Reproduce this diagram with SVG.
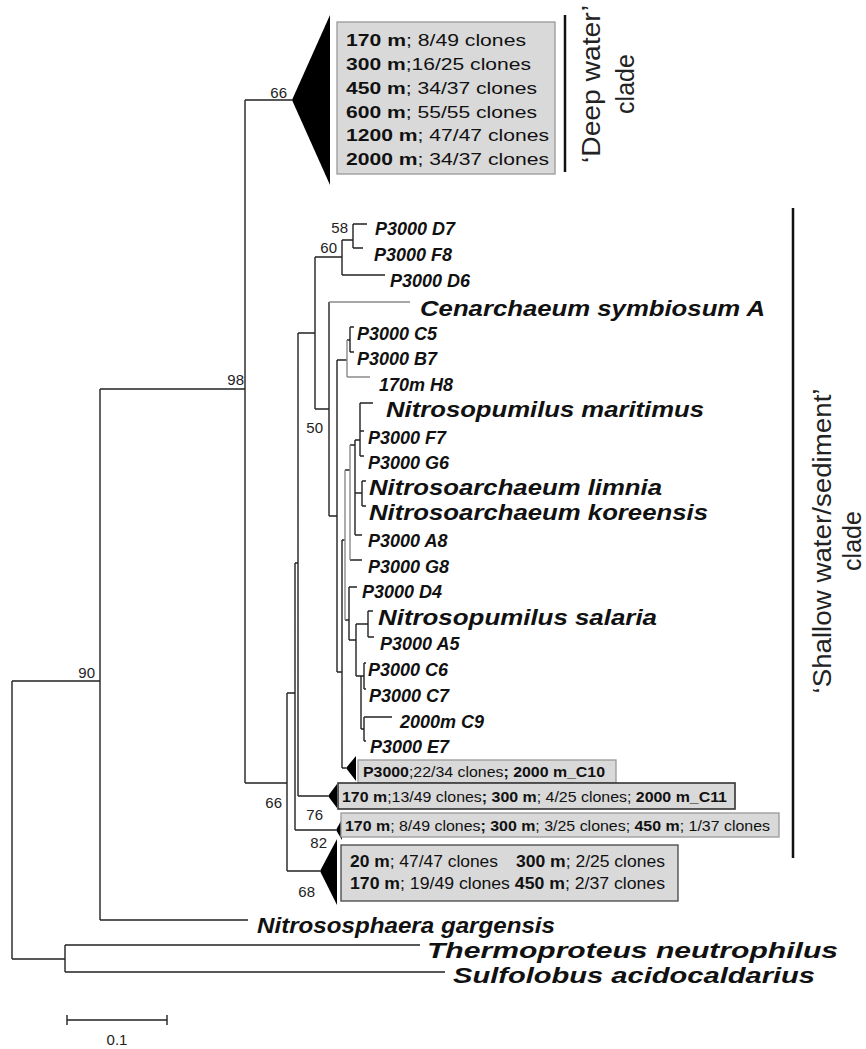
<svg xmlns="http://www.w3.org/2000/svg" width="866" height="1049" viewBox="0 0 866 1049">
<style>
text{font-family:"Liberation Sans",Arial,sans-serif;fill:#111}
.tip{font-size:18px;font-weight:bold;font-style:italic}
.sp{font-size:22px;font-weight:bold;font-style:italic}
.bs{font-size:15px;fill:#222}
.box{fill:#d9d9d9;stroke:#999;stroke-width:1.3}
.boxd{fill:#d9d9d9;stroke:#333;stroke-width:1.6}
.bt{font-size:17px}
.st{font-size:14px}
.b{font-weight:bold}
.tree{fill:none;stroke:#222;stroke-width:1.4}
.treeg{fill:none;stroke:#8a8a8a;stroke-width:1.4}
.tri{fill:#000}
.bar{stroke:#111;stroke-width:2.5}
.lab{font-size:25px;fill:#222}
</style>
<g id="connectors">
<path class="tree" d="M12 681V959M12 681H100M12 959H65M65 945V972M65 945H420M65 972H445M100 389V920M100 920H248M100 389H245M245 100V783M245 100H292M245 783H287M287 693V871M287 871H320M287 693H295M295 563V830M295 830H336M295 563H298M298 333V796M298 796H328M298 333H315M315 257V409M315 257H342M342 240V275M342 240H353M342 275H385M353 224V248M353 224H367M353 248H363M315 409H329M329 302V516M329 516H337M337 360V672M337 360H347M347 340H350M350 327V352M350 327H354M350 352H354M337 672H342M342 540V768M342 768H346M342 540H345M345 470H350M350 445H355M355 440V535M355 440H360M360 403V456M360 403H373M360 431H364M360 456H364M355 493H362M362 481V506M362 481H366M362 506H366M355 535H362M350 560H362M345 620H349M349 587V640M349 587H357M349 640H356M356 624V676M356 624H368M368 611V637M368 611H373M368 637H374M356 676H361M361 676V729M361 676H364M364 663V689M364 663H366M364 689H366M361 729H364M364 717V741M364 717H392M364 741H366"/>
<path class="treeg" d="M329 302H410M347 340V377M347 377H370M345 470V620M350 445V560"/>
<path class="tree" d="M67 1020H167M67 1015V1025M167 1015V1025"/>
</g>
<g id="bootstrap">
<text class="bs" x="287" y="98" text-anchor="end">66</text>
<text class="bs" x="348" y="233" text-anchor="end">58</text>
<text class="bs" x="337" y="253" text-anchor="end">60</text>
<text class="bs" x="323" y="433" text-anchor="end">50</text>
<text class="bs" x="244" y="385" text-anchor="end">98</text>
<text class="bs" x="95" y="678" text-anchor="end">90</text>
<text class="bs" x="282" y="808" text-anchor="end">66</text>
<text class="bs" x="323" y="820" text-anchor="end">76</text>
<text class="bs" x="327" y="848" text-anchor="end">82</text>
<text class="bs" x="315" y="897" text-anchor="end">68</text>
</g>
<g id="deep-clade">
<polygon class="tri" points="292,100 330,15 330,185"/>
<rect class="box" x="337" y="22" width="218" height="152"/>
<text class="bt" x="346" y="46" textLength="180" lengthAdjust="spacingAndGlyphs"><tspan class="b">170 m</tspan>; 8/49 clones</text>
<text class="bt" x="346" y="70" textLength="185" lengthAdjust="spacingAndGlyphs"><tspan class="b">300 m</tspan>;16/25 clones</text>
<text class="bt" x="346" y="94" textLength="191" lengthAdjust="spacingAndGlyphs"><tspan class="b">450 m</tspan>; 34/37 clones</text>
<text class="bt" x="346" y="118" textLength="191" lengthAdjust="spacingAndGlyphs"><tspan class="b">600 m</tspan>; 55/55 clones</text>
<text class="bt" x="346" y="141" textLength="203" lengthAdjust="spacingAndGlyphs"><tspan class="b">1200 m</tspan>; 47/47 clones</text>
<text class="bt" x="346" y="165" textLength="203" lengthAdjust="spacingAndGlyphs"><tspan class="b">2000 m</tspan>; 34/37 clones</text>
</g>
<g id="deep-label">
<line class="bar" x1="565" y1="15" x2="565" y2="172"/>
<text class="lab" transform="translate(600,84) rotate(-90)" text-anchor="middle" textLength="158" lengthAdjust="spacingAndGlyphs">‘Deep water’</text>
<text class="lab" transform="translate(634,84) rotate(-90)" text-anchor="middle">clade</text>
</g>
<g id="shallow-label">
<line class="bar" x1="793" y1="208" x2="793" y2="858"/>
<text class="lab" style="font-size:26px" transform="translate(831,541) rotate(-90)" text-anchor="middle" textLength="305" lengthAdjust="spacingAndGlyphs">‘Shallow water/sediment’</text>
<text class="lab" transform="translate(861,541) rotate(-90)" text-anchor="middle">clade</text>
</g>
<g id="tips">
<text class="tip" x="375" y="235">P3000 D7</text>
<text class="tip" x="374" y="261">P3000 F8</text>
<text class="tip" x="390" y="287">P3000 D6</text>
<text class="sp" x="420" y="316" textLength="345" lengthAdjust="spacingAndGlyphs">Cenarchaeum symbiosum A</text>
<text class="tip" x="357" y="340">P3000 C5</text>
<text class="tip" x="357" y="365">P3000 B7</text>
<text class="tip" x="379" y="391">170m H8</text>
<text class="sp" x="386" y="417" textLength="318" lengthAdjust="spacingAndGlyphs">Nitrosopumilus maritimus</text>
<text class="tip" x="368" y="444">P3000 F7</text>
<text class="tip" x="368" y="469">P3000 G6</text>
<text class="sp" x="369" y="495" textLength="293" lengthAdjust="spacingAndGlyphs">Nitrosoarchaeum limnia</text>
<text class="sp" x="369" y="520" textLength="339" lengthAdjust="spacingAndGlyphs">Nitrosoarchaeum koreensis</text>
<text class="tip" x="368" y="547">P3000 A8</text>
<text class="tip" x="368" y="573">P3000 G8</text>
<text class="tip" x="362" y="598">P3000 D4</text>
<text class="sp" x="378" y="625" textLength="279" lengthAdjust="spacingAndGlyphs">Nitrosopumilus salaria</text>
<text class="tip" x="380" y="650">P3000 A5</text>
<text class="tip" x="368" y="676">P3000 C6</text>
<text class="tip" x="369" y="702">P3000 C7</text>
<text class="tip" x="400" y="728">2000m C9</text>
<text class="tip" x="370" y="753">P3000 E7</text>
<text class="sp" x="257" y="933" textLength="298" lengthAdjust="spacingAndGlyphs">Nitrososphaera gargensis</text>
<text class="sp" x="427" y="958" textLength="411" lengthAdjust="spacingAndGlyphs">Thermoproteus neutrophilus</text>
<text class="sp" x="453" y="983" textLength="362" lengthAdjust="spacingAndGlyphs">Sulfolobus acidocaldarius</text>
</g>
<g id="clade-C10">
<polygon class="tri" points="346,768 356,756 356,781"/>
<rect class="box" x="358" y="760" width="258" height="23"/>
<text class="st" x="363" y="777" textLength="242" lengthAdjust="spacingAndGlyphs"><tspan class="b">P3000</tspan>;22/34 clones<tspan class="b">; 2000 m_C10</tspan></text>
</g>
<g id="clade-C11">
<polygon class="tri" points="328,796 337,784 337,808"/>
<rect class="boxd" x="338" y="783" width="397" height="26"/>
<text class="st" x="342" y="802" textLength="385" lengthAdjust="spacingAndGlyphs"><tspan class="b">170 m</tspan>;13/49 clones<tspan class="b">; 300 m</tspan>; 4/25 clones; <tspan class="b">2000 m_C11</tspan></text>
</g>
<g id="clade-450">
<polygon class="tri" points="336,830 342,819 342,840"/>
<rect class="box" x="341" y="813" width="438" height="24"/>
<text class="st" x="345" y="831" textLength="425" lengthAdjust="spacingAndGlyphs"><tspan class="b">170 m</tspan>; 8/49 clones<tspan class="b">; 300 m</tspan>; 3/25 clones; <tspan class="b">450 m</tspan>; 1/37 clones</text>
</g>
<g id="clade-20m">
<polygon class="tri" points="320,871 337,839 337,905"/>
<rect class="box" x="341" y="845" width="337" height="56" style="stroke:#444"/>
<text class="bt" style="font-size:16px" x="350" y="867" textLength="148" lengthAdjust="spacingAndGlyphs"><tspan class="b">20 m</tspan>; 47/47 clones</text>
<text class="bt" style="font-size:16px" x="516" y="867" textLength="149" lengthAdjust="spacingAndGlyphs"><tspan class="b">300 m</tspan>; 2/25 clones</text>
<text class="bt" style="font-size:16px" x="350" y="889" textLength="315" lengthAdjust="spacingAndGlyphs"><tspan class="b">170 m</tspan>; 19/49 clones <tspan class="b">450 m</tspan>; 2/37 clones</text>
</g>
<g id="scale">
<text class="bs" x="117" y="1045" text-anchor="middle">0.1</text>
</g>
</svg>
